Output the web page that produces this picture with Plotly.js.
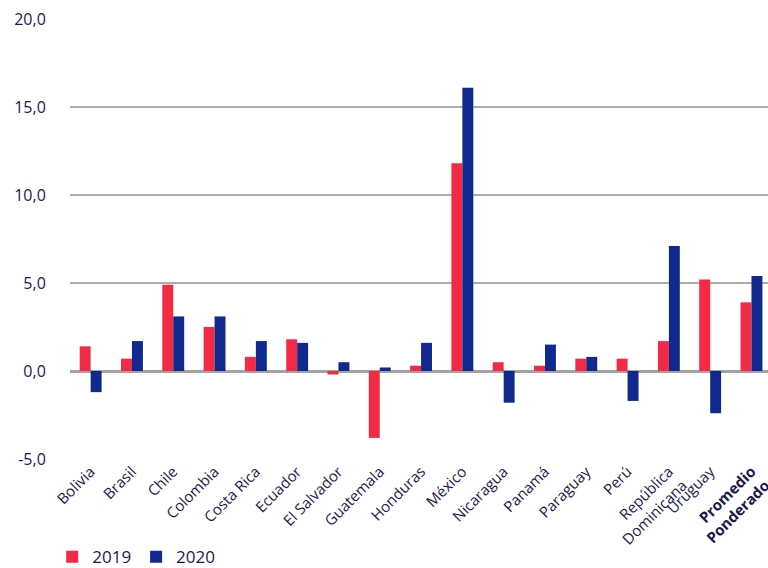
<!DOCTYPE html>
<html>
<head>
<meta charset="utf-8">
<script src="https://cdn.plot.ly/plotly-3.0.1.min.js"></script>
<style>
  html, body { margin: 0; padding: 0; background: #fff; }
  #chart { width: 768px; height: 568px; }
</style>
</head>
<body>
<div id="chart"></div>
<script>
// Countries on the category axis (last one is the weighted average, shown bold)
const categories = [
  'Bolivia', 'Brasil', 'Chile', 'Colombia', 'Costa Rica', 'Ecuador',
  'El Salvador', 'Guatemala', 'Honduras', 'México', 'Nicaragua', 'Panamá',
  'Paraguay', 'Perú', 'República<br>Dominicana', 'Uruguay',
  '<b>Promedio<br>Ponderado</b>'
];

// Yearly values per country
const values2019 = [1.4, 0.7, 4.9, 2.5, 0.8, 1.8, -0.2, -3.8, 0.3, 11.8, 0.5, 0.3, 0.7, 0.7, 1.7, 5.2, 3.9];
const values2020 = [-1.2, 1.7, 3.1, 3.1, 1.7, 1.6, 0.5, 0.2, 1.6, 16.1, -1.8, 1.5, 0.8, -1.7, 7.1, -2.4, 5.4];

// Y-axis ticks and their labels (decimal comma, plain hyphen for negatives)
const yTicks = [-5, 0, 5, 10, 15, 20];
const yTickText = yTicks.map(v => v.toFixed(1).replace('.', ','));

const navy = '#1b1a4f';

const traces = [
  { type: 'bar', name: '2019', x: categories, y: values2019, marker: { color: '#f22a44' } },
  { type: 'bar', name: '2020', x: categories, y: values2020, marker: { color: '#10298e' } }
];

const layout = {
  width: 768,
  height: 568,
  margin: { l: 70, r: 0, t: 19, b: 109 },
  paper_bgcolor: '#ffffff',
  plot_bgcolor: '#ffffff',
  font: { family: 'Open Sans, Noto Sans, sans-serif', color: navy },
  barmode: 'group',
  bargap: 0.47,
  bargroupgap: 0,
  showlegend: true,
  legend: {
    orientation: 'h',
    xref: 'container', yref: 'container',
    x: 0.068, xanchor: 'left',
    y: 0.019, yanchor: 'middle',
    font: { size: 17, color: navy },
    itemwidth: 30,
    traceorder: 'normal'
  },
  xaxis: {
    type: 'category',
    range: [-0.5, 16.4],
    tickangle: -45,
    tickfont: { size: 15, color: navy },
    showgrid: false,
    zeroline: false,
    showline: false,
    ticks: '',
    automargin: false
  },
  yaxis: {
    range: [-5, 20],
    tickvals: yTicks,
    ticktext: yTickText,
    tickfont: { size: 16, color: navy },
    showgrid: true,
    gridcolor: '#ababab',
    gridwidth: 1.5,
    zeroline: true,
    zerolinecolor: '#a3a3a3',
    zerolinewidth: 3,
    showline: false,
    ticks: 'outside',
    ticklen: 20,
    tickcolor: 'rgba(0,0,0,0)',
    automargin: false
  }
};

Plotly.newPlot('chart', traces, layout, { displayModeBar: false, staticPlot: true });
</script>
</body>
</html>
